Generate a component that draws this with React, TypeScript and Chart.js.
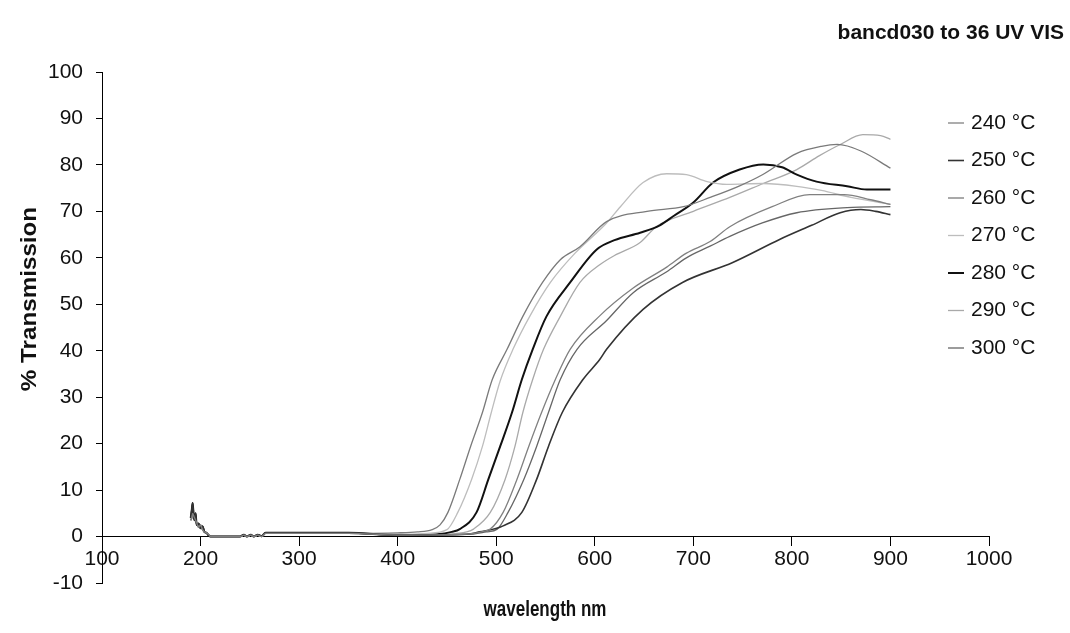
import React, { useEffect, useRef } from 'react';
import { Chart, registerables } from 'chart.js';

Chart.register(...registerables);

const chartTitle = 'bancd030 to 36 UV VIS';
const xAxisTitle = 'wavelength nm';
const yAxisTitle = '% Transmission';

const seriesLabels = ['240 °C', '250 °C', '260 °C', '270 °C', '280 °C', '290 °C', '300 °C'];
const seriesColors = ['#808080', '#333333', '#7a7a7a', '#bdbdbd', '#111111', '#a9a9a9', '#666666'];
const seriesWidths = [1.3, 1.6, 1.3, 1.3, 2, 1.3, 1.3];

const xTickValues = [100, 200, 300, 400, 500, 600, 700, 800, 900, 1000];
const yTickValues = [-10, 0, 10, 20, 30, 40, 50, 60, 70, 80, 90, 100];

// UV end (190-350 nm), shared wavelengths
const uvWavelengths = [190, 191, 192, 193, 194, 195, 196, 198, 200, 202, 204, 206, 208, 210, 240, 244, 247, 251, 254, 258, 262, 266, 300, 350];
const uvSpikeA = [4, 5.5, 7.2, 4.5, 3.5, 5, 2.5, 2.8, 1.8, 2.2, 1.0, 0.8, 0.3, 0, 0, 0.4, 0, 0.4, 0, 0.4, 0.1, 0.8, 0.8, 0.8];
const uvSpikeB = [3.5, 4, 5, 4.5, 4, 3.5, 3, 2, 2.5, 1.5, 1, 0.8, 0.5, 0, 0, 0.3, 0, 0.3, 0, 0.3, 0, 0.7, 0.7, 0.7];

// Visible range per series
const wl240 = [400, 470, 485, 494, 507, 521, 533, 546, 560, 575, 605, 639, 673, 693, 717, 737, 780, 818, 853, 880, 900];
const t240 = [0.3, 0.5, 1, 1.6, 5.2, 12.3, 19.4, 26.7, 33.8, 40.3, 47.5, 53.5, 58, 61, 63.5, 66.7, 71, 73.6, 73.6, 72.5, 71.5];

const wl250 = [400, 470, 483, 507, 526, 541, 553, 567, 588, 605, 612, 649, 689, 740, 788, 820, 849, 870, 885, 900];
const t250 = [0.3, 0.5, 1, 2.3, 5.2, 12.3, 19.4, 26.7, 33.8, 38.1, 40.3, 48.9, 54.7, 59, 64, 67, 69.7, 70.4, 70, 69.3];

const wl260 = [400, 420, 435, 443, 451, 463, 474, 486, 496, 511, 527, 547, 565, 585, 612, 653, 690, 717, 747, 771, 805, 830, 846, 870, 900];
const t260 = [0.8, 1, 1.5, 2.5, 5.2, 12.3, 19.4, 26.7, 33.8, 40.3, 47.4, 54.7, 59.6, 62.4, 67.8, 70, 71, 73, 75.5, 78, 82.5, 84, 84.4, 83, 79.3];

const wl270 = [400, 430, 450, 461, 475, 486, 495, 504, 517, 534, 555, 580, 600, 612, 626, 649, 673, 693, 714, 734, 771, 805, 830, 860, 900];
const t270 = [0.5, 0.7, 1.5, 5.2, 12.3, 19.4, 26.7, 33.5, 40.3, 47.4, 54.7, 61, 65, 67.5, 71, 76.2, 78.1, 77.9, 76.4, 75.8, 76, 75.4, 74.5, 73, 71.5];

const wl280 = [400, 440, 455, 463, 480, 492, 504, 516, 526, 537, 551, 575, 602, 620, 646, 666, 680, 700, 720, 747, 771, 790, 805, 825, 856, 876, 900];
const t280 = [0.3, 0.5, 1, 1.6, 5.2, 12.3, 19.4, 26.7, 33.8, 40.3, 47.4, 54.7, 61.8, 63.8, 65.4, 67, 69, 71.9, 76.2, 79, 80.1, 79.5, 77.9, 76.4, 75.4, 74.7, 74.7];

const wl290 = [400, 450, 470, 477, 494, 509, 519, 527, 537, 548, 565, 585, 605, 620, 646, 663, 700, 737, 771, 805, 828, 849, 872, 890, 900];
const t290 = [0.3, 0.5, 1, 1.6, 5.2, 12.3, 19.4, 26.7, 33.8, 40.3, 47.4, 54.7, 58.5, 60.5, 63.3, 66.8, 70, 73, 76, 79, 82, 84.4, 86.5, 86.3, 85.5];

const wl300 = [400, 475, 490, 501, 512, 528, 541, 553, 565, 582, 612, 639, 673, 693, 717, 737, 770, 805, 856, 900];
const t300 = [0.3, 0.5, 1, 1.6, 5.2, 12.3, 19.4, 26.7, 33.8, 40.3, 46.5, 52.5, 57, 60, 62.5, 64.6, 67.5, 69.7, 70.8, 71];

const seriesWl = [wl240, wl250, wl260, wl270, wl280, wl290, wl300];
const seriesT = [t240, t250, t260, t270, t280, t290, t300];
const seriesUv = [uvSpikeB, uvSpikeA, uvSpikeB, uvSpikeB, uvSpikeA, uvSpikeB, uvSpikeB];

const FONT = '"Liberation Sans", Arial, sans-serif';

const decorPlugin = {
  id: 'decor',
  afterDraw(chart: any) {
    const ctx = chart.ctx;
    ctx.save();
    ctx.fillStyle = '#111';
    // chart title
    ctx.font = `bold 21px ${FONT}`;
    ctx.textAlign = 'right';
    ctx.textBaseline = 'middle';
    ctx.fillText(chartTitle, 1064, 33);
    // x title
    ctx.save();
    ctx.textAlign = 'center';
    ctx.font = `bold 17px ${FONT}`;
    ctx.translate(545, 610);
    ctx.scale(1, 1.25);
    ctx.fillText(xAxisTitle, 0, 0);
    ctx.restore();
    // y title
    ctx.save();
    ctx.textAlign = 'center';
    ctx.translate(30, 299);
    ctx.rotate(-Math.PI / 2);
    ctx.scale(1.1, 1);
    ctx.font = `bold 22px ${FONT}`;
    ctx.fillText(yAxisTitle, 0, 0);
    ctx.restore();
    // legend
    ctx.font = `21px ${FONT}`;
    ctx.textAlign = 'left';
    seriesLabels.forEach((label, i) => {
      const y = 123 + i * 37.5;
      ctx.strokeStyle = seriesColors[i];
      ctx.lineWidth = seriesWidths[i];
      ctx.beginPath();
      ctx.moveTo(948, y);
      ctx.lineTo(964, y);
      ctx.stroke();
      ctx.fillStyle = '#111';
      ctx.fillText(label, 971, y);
    });
    ctx.restore();
  },
};

export default function App() {
  const canvasRef = useRef<HTMLCanvasElement | null>(null);

  useEffect(() => {
    document.body.style.margin = '0';
    const canvas = canvasRef.current;
    if (!canvas) return;
    const datasets = seriesLabels.map((label, i) => {
      const pts = uvWavelengths
        .map((w, j) => ({ x: w, y: seriesUv[i][j] }))
        .concat(seriesWl[i].map((w, j) => ({ x: w, y: seriesT[i][j] })));
      return {
        label,
        data: pts,
        borderColor: seriesColors[i],
        backgroundColor: seriesColors[i],
        borderWidth: seriesWidths[i],
        pointRadius: 0,
        fill: false,
        cubicInterpolationMode: 'monotone' as const,
      };
    });

    const chart = new Chart(canvas, {
      type: 'line',
      data: { datasets },
      plugins: [decorPlugin],
      options: {
        responsive: false,
        animation: false,
        layout: { padding: { left: 0, right: 81, top: 72, bottom: 50 } },
        plugins: {
          legend: { display: false },
          title: { display: false },
          tooltip: { enabled: false },
        },
        scales: {
          x: {
            type: 'linear',
            min: 100,
            max: 1000,
            position: { y: 0 } as any,
            afterBuildTicks: (scale: any) => {
              scale.ticks = xTickValues.map((v) => ({ value: v }));
            },
            ticks: {
              color: '#111',
              font: { family: FONT, size: 21 },
              maxRotation: 0,
              autoSkip: false,
              padding: 1,
              callback: (v: any) => String(v),
            },
            grid: {
              display: true,
              drawOnChartArea: false,
              drawTicks: true,
              tickLength: 9,
              color: '#000',
            },
            border: { display: true, color: '#000', width: 1 },
          },
          y: {
            type: 'linear',
            min: -10,
            max: 100,
            afterBuildTicks: (scale: any) => {
              scale.ticks = yTickValues.map((v) => ({ value: v }));
            },
            afterFit: (scale: any) => {
              scale.width = 102;
            },
            ticks: {
              color: '#111',
              font: { family: FONT, size: 21 },
              padding: 13,
              callback: (v: any) => String(v),
            },
            grid: {
              display: true,
              drawOnChartArea: false,
              drawTicks: true,
              tickLength: 6,
              color: '#000',
            },
            border: { display: true, color: '#000', width: 1 },
          },
        },
      },
    });
    return () => chart.destroy();
  }, []);

  return (
    <div style={{ width: 1070, height: 633, background: '#fff' }}>
      <canvas ref={canvasRef} width={1070} height={633} />
    </div>
  );
}
